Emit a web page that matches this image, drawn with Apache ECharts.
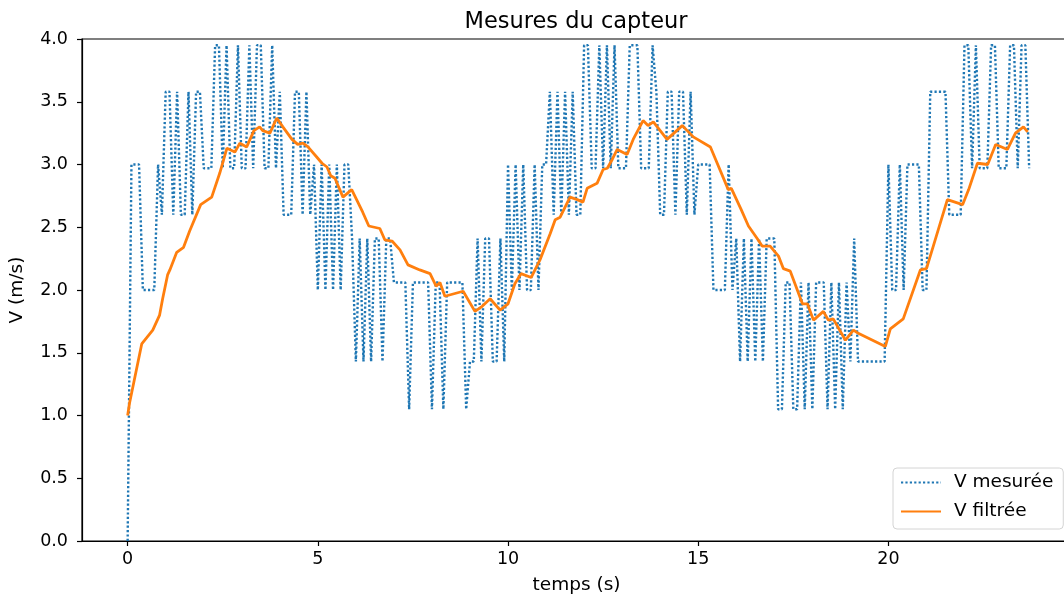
<!DOCTYPE html>
<html><head><meta charset="utf-8">
<script src="https://cdn.jsdelivr.net/npm/echarts@6/dist/echarts.min.js"></script>
<style>html,body{margin:0;padding:0;background:#fff}#c{width:1064px;height:601px}</style>
</head><body><div id="c"></div>
<script>
// sampling period of the measured signal (s)
const sampleStep = 0.1;
// measured speed, one value per sample (m/s)
const vMesuree = [
  0, 3.0, 3.0, 3.0, 2.0, 2.0, 2.0, 2.0, 3.0, 2.6,
  3.58, 3.58, 2.6, 3.58, 2.6, 2.6, 3.58, 2.6, 3.58, 3.58,
  2.97, 2.97, 2.97, 3.95, 3.95, 2.97, 3.95, 2.97, 2.97, 3.95,
  2.97, 2.97, 3.95, 2.97, 3.95, 3.95, 2.97, 2.97, 3.95, 2.97,
  3.58, 2.6, 2.6, 2.6, 3.58, 3.58, 2.6, 3.58, 2.6, 3.0,
  2.0, 3.0, 2.0, 3.0, 2.0, 3.0, 2.0, 3.0, 3.0, 2.41,
  1.43, 2.41, 1.43, 2.41, 1.43, 2.41, 2.41, 1.43, 2.41, 2.41,
  2.06, 2.06, 2.06, 2.06, 1.05, 2.06, 2.06, 2.06, 2.06, 2.06,
  1.05, 2.06, 2.06, 1.05, 2.06, 2.06, 2.06, 2.06, 2.06, 1.05,
  1.43, 1.43, 2.41, 1.43, 2.41, 2.41, 1.43, 1.43, 2.41, 1.43,
  3.0, 2.0, 3.0, 2.0, 3.0, 2.0, 2.0, 3.0, 2.0, 3.0,
  3.0, 3.58, 2.6, 3.58, 2.6, 3.58, 2.6, 3.58, 2.6, 2.6,
  3.95, 3.95, 2.97, 2.97, 3.95, 2.97, 3.95, 2.97, 3.95, 2.97,
  2.97, 2.97, 3.95, 3.95, 3.95, 2.97, 2.97, 2.97, 3.95, 3.58,
  2.6, 2.6, 3.58, 3.58, 2.6, 3.58, 3.58, 2.6, 3.58, 2.6,
  3.0, 3.0, 3.0, 3.0, 2.0, 2.0, 2.0, 2.0, 3.0, 2.0,
  2.41, 1.43, 2.41, 1.43, 2.41, 1.43, 2.41, 1.43, 2.41, 2.41,
  2.41, 1.05, 1.05, 2.06, 2.06, 1.05, 1.05, 2.06, 1.05, 2.06,
  1.05, 2.06, 2.06, 2.06, 1.05, 2.06, 1.05, 2.06, 1.05, 2.06,
  1.43, 2.41, 1.43, 1.43, 1.43, 1.43, 1.43, 1.43, 1.43, 1.43,
  3.0, 2.0, 2.0, 3.0, 2.0, 3.0, 3.0, 3.0, 3.0, 2.0,
  2.0, 3.58, 3.58, 3.58, 3.58, 3.58, 2.6, 2.6, 2.6, 2.6,
  3.95, 3.95, 2.97, 3.95, 2.97, 2.97, 2.97, 3.95, 3.95, 2.97,
  2.97, 2.97, 3.95, 3.95, 2.97, 3.95, 3.95, 2.97
];
// filtered speed, read at its corner points
const tFiltree = [
  0.00, 0.05, 0.37, 0.66, 0.84, 0.92, 1.05, 1.11, 1.29, 1.47,
  1.63, 1.92, 2.21, 2.42, 2.61, 2.82, 2.95, 3.13, 3.32, 3.47,
  3.55, 3.74, 3.92, 4.08, 4.32, 4.47, 4.61, 4.74, 4.97, 5.11,
  5.24, 5.34, 5.45, 5.66, 5.89, 6.18, 6.34, 6.63, 6.76, 6.95,
  7.16, 7.37, 7.68, 7.95, 8.11, 8.21, 8.34, 8.82, 9.13, 9.32,
  9.53, 9.79, 10.00, 10.18, 10.34, 10.61, 10.84, 11.11, 11.24, 11.37,
  11.50, 11.63, 11.82, 11.97, 12.08, 12.34, 12.50, 12.61, 12.74, 12.87,
  13.13, 13.29, 13.55, 13.68, 13.82, 14.18, 14.58, 14.71, 14.87, 15.32,
  15.79, 15.87, 16.13, 16.32, 16.55, 16.68, 16.89, 17.11, 17.24, 17.42,
  17.74, 17.87, 18.03, 18.29, 18.42, 18.55, 18.87, 19.08, 19.18, 19.92,
  20.05, 20.39, 20.84, 21.00, 21.18, 21.55, 21.95, 22.11, 22.34, 22.61,
  22.82, 23.13, 23.34, 23.55, 23.66
];
const vFiltree = [
  1.00, 1.10, 1.57, 1.68, 1.80, 1.93, 2.12, 2.16, 2.30, 2.34,
  2.47, 2.68, 2.74, 2.93, 3.13, 3.10, 3.17, 3.14, 3.27, 3.30,
  3.27, 3.25, 3.37, 3.30, 3.20, 3.16, 3.17, 3.14, 3.06, 3.01,
  2.98, 2.91, 2.89, 2.74, 2.80, 2.62, 2.51, 2.49, 2.40, 2.39,
  2.32, 2.20, 2.16, 2.13, 2.03, 2.06, 1.95, 1.99, 1.83, 1.87,
  1.93, 1.84, 1.89, 2.05, 2.13, 2.10, 2.24, 2.45, 2.56, 2.58,
  2.66, 2.74, 2.72, 2.70, 2.81, 2.85, 2.96, 2.97, 3.04, 3.12,
  3.08, 3.20, 3.35, 3.31, 3.34, 3.20, 3.31, 3.27, 3.22, 3.14,
  2.80, 2.81, 2.64, 2.51, 2.41, 2.35, 2.35, 2.27, 2.17, 2.15,
  1.89, 1.89, 1.76, 1.83, 1.76, 1.77, 1.60, 1.68, 1.66, 1.55,
  1.69, 1.77, 2.16, 2.17, 2.35, 2.72, 2.68, 2.80, 3.01, 3.00,
  3.16, 3.12, 3.25, 3.30, 3.26
];
const xTickValues = [0, 5, 10, 15, 20];

const mesData = vMesuree.map((v, i) => [Math.round(i * sampleStep * 1000) / 1000, v]);
const filtData = tFiltree.map((t, i) => [t, vFiltree[i]]);

const FONT = 'DejaVu Sans';
const chart = echarts.init(document.getElementById('c'), null, {renderer: 'canvas'});
chart.setOption({
  animation: false,
  backgroundColor: '#fff',
  title: {
    text: 'Mesures du capteur', left: 571, top: 6, textAlign: 'center',
    textStyle: {fontFamily: FONT, fontSize: 22.5, fontWeight: 'normal', color: '#000'}
  },
  grid: {left: 82, width: 989, top: 39, height: 502, outerBoundsMode: 'none', containLabel: false,
         show: true, borderColor: '#000', borderWidth: 1.2, backgroundColor: 'transparent'},
  legend: {
    orient: 'vertical', left: 893, top: 468,
    data: ['V mesurée', 'V filtrée'],
    itemWidth: 40, itemHeight: 20, itemGap: 10,
    padding: [5, 10, 8, 7],
    itemStyle: {color: 'rgba(0,0,0,0)', borderWidth: 0, opacity: 0},
    borderColor: '#d4d4d4', borderWidth: 1, borderRadius: 4,
    backgroundColor: 'rgba(255,255,255,0.8)',
    textStyle: {fontFamily: FONT, fontSize: 18.5, color: '#000', padding: [0, 0, 0, 8]}
  },
  xAxis: {
    type: 'value', min: -1.2, max: 24.8,
    name: 'temps (s)', nameLocation: 'middle', nameGap: 35,
    nameTextStyle: {fontFamily: FONT, fontSize: 18.5, color: '#000'},
    axisLine: {show: true, onZero: false, lineStyle: {color: '#000', width: 1.2}},
    axisTick: {show: true, customValues: xTickValues, length: 5, lineStyle: {color: '#000', width: 1.2}},
    axisLabel: {customValues: xTickValues, margin: 9, fontFamily: FONT, fontSize: 17.5, color: '#000'},
    splitLine: {show: false}
  },
  yAxis: {
    type: 'value', min: 0, max: 4, interval: 0.5,
    name: 'V (m/s)', nameLocation: 'middle', nameGap: 55,
    nameTextStyle: {fontFamily: FONT, fontSize: 18.5, color: '#000'},
    axisLine: {show: true, onZero: false, lineStyle: {color: '#000', width: 1.2}},
    axisTick: {show: true, length: 5, lineStyle: {color: '#000', width: 1.2}},
    axisLabel: {margin: 14, fontFamily: FONT, fontSize: 17.5, color: '#000', formatter: v => v.toFixed(1)},
    splitLine: {show: false}
  },
  series: [
    {
      name: 'V mesurée', type: 'line', data: mesData, symbol: 'none', z: 2,
      itemStyle: {color: '#1f77b4'},
      lineStyle: {color: '#1f77b4', width: 2.4, type: [2.2, 2.2]}
    },
    {
      name: 'V filtrée', type: 'line', data: filtData, symbol: 'none', z: 3,
      itemStyle: {color: '#ff7f0e'},
      lineStyle: {color: '#ff7f0e', width: 2.8}
    }
  ]
});
</script></body></html>
